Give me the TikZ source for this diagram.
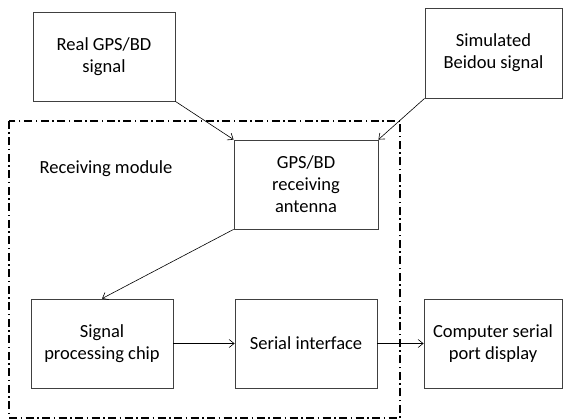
\documentclass[tikz,border=0pt]{standalone}
\usepackage{fontspec}
\setmainfont{Carlito}
\usetikzlibrary{positioning,arrows.meta}

\begin{document}
\begin{tikzpicture}[x=1pt,y=-1pt,every node/.style={font=\fontsize{18.5}{22}\selectfont},
    blockbox/.style={draw=black!75,line width=0.8pt,minimum width=142pt,minimum height=89pt,align=center,inner sep=0pt},
    flow/.style={-{Straight Barb[length=5pt,width=8pt]},line width=0.6pt}]
  \useasboundingbox (0,0) rectangle (563,419);
  % receiving module frame
  \draw[line width=1.4pt,dash pattern=on 8pt off 3.5pt on 1.5pt off 3.5pt] (9,121) rectangle (400,418);
  \node (module) at (106,169) {Receiving module};
  % blocks
  \node[blockbox] (real) at (104,56.5) {Real GPS/BD\\signal};
  \node[blockbox,minimum width=137pt,minimum height=90pt] (sim) at (493.5,53) {Simulated\\Beidou signal};
  \node[blockbox,minimum width=144pt] (antenna) at (306,184.5) {GPS/BD\\receiving\\antenna};
  \node[blockbox] (chip) at (102,343.5) {Signal\\processing chip};
  \node[blockbox] (serial) at (306,343.5) {Serial interface};
  \node[blockbox,minimum width=138pt] (pc) at (493,343.5) {Computer serial\\port display};
  % connectors
  \draw[flow] (real.south east) -- (antenna.north west);
  \draw[flow] (sim.south west) -- (antenna.north east);
  \draw[flow] (antenna.south west) -- (chip.north);
  \draw[flow] (chip) -- (serial);
  \draw[flow] (serial) -- (pc);
\end{tikzpicture}
\end{document}
